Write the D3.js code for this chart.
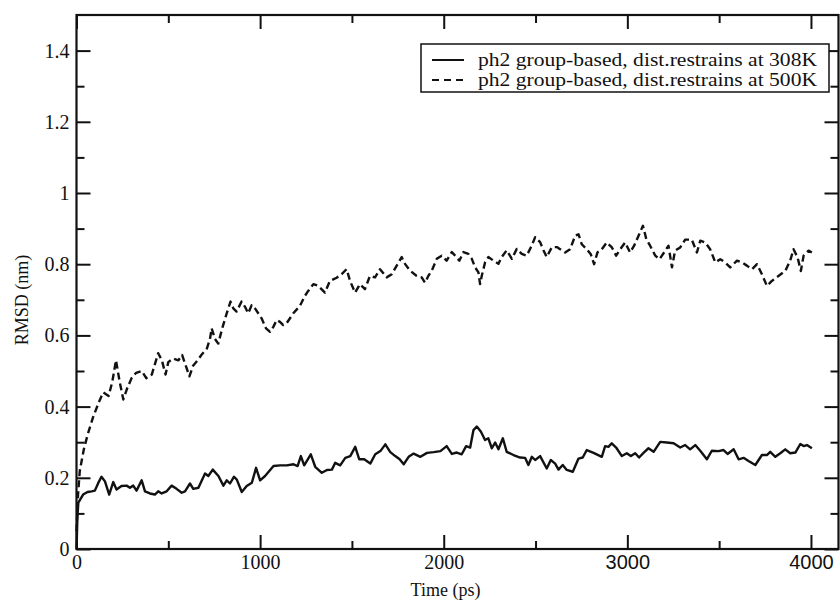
<!DOCTYPE html>
<html>
<head>
<meta charset="utf-8">
<script src="https://cdn.jsdelivr.net/npm/d3@7"></script>
<style>
  html, body { margin: 0; padding: 0; background: #fff; }
  svg { display: block; }
</style>
</head>
<body>
<svg id="chart" width="840" height="601"></svg>
<script>
// ---- data ----
const seriesNames = ["ph2 group-based, dist.restrains at 308K", "ph2 group-based, dist.restrains at 500K"];
const time308 = [0,5,10,36,60,82,100,118,136,155,178,200,218,245,273,291,309,327,355,373,400,427,445,464,491,518,545,573,591,618,636,664,700,718,742,773,800,818,836,858,873,900,927,955,978,1000,1027,1073,1109,1145,1182,1204,1222,1240,1276,1300,1336,1364,1391,1409,1436,1464,1491,1518,1540,1567,1600,1627,1655,1682,1709,1736,1760,1782,1809,1836,1873,1909,1945,1982,2016,2044,2071,2098,2122,2144,2162,2180,2202,2225,2243,2262,2280,2298,2322,2343,2380,2416,2443,2461,2480,2498,2525,2561,2583,2607,2625,2648,2670,2703,2734,2757,2779,2816,2861,2879,2897,2915,2939,2970,2997,3019,3043,3064,3088,3115,3143,3179,3215,3252,3288,3315,3342,3370,3397,3433,3460,3497,3524,3546,3579,3606,3633,3660,3697,3733,3760,3778,3806,3833,3860,3887,3915,3942,3960,3978,4005];
const rmsd308 = [0,0.09,0.13,0.153,0.16,0.162,0.164,0.185,0.203,0.19,0.153,0.188,0.167,0.177,0.178,0.172,0.178,0.164,0.193,0.162,0.156,0.153,0.162,0.156,0.162,0.178,0.169,0.158,0.162,0.184,0.169,0.172,0.212,0.205,0.223,0.205,0.178,0.193,0.184,0.203,0.195,0.16,0.177,0.186,0.228,0.193,0.205,0.233,0.235,0.235,0.238,0.233,0.261,0.235,0.266,0.231,0.214,0.222,0.223,0.242,0.235,0.256,0.261,0.287,0.252,0.252,0.240,0.266,0.275,0.294,0.272,0.261,0.252,0.238,0.259,0.268,0.259,0.27,0.272,0.275,0.289,0.267,0.271,0.266,0.289,0.285,0.334,0.344,0.330,0.306,0.311,0.283,0.299,0.28,0.311,0.273,0.264,0.257,0.256,0.236,0.259,0.25,0.261,0.226,0.25,0.24,0.223,0.236,0.222,0.217,0.254,0.257,0.278,0.27,0.259,0.289,0.287,0.297,0.285,0.261,0.269,0.261,0.269,0.257,0.27,0.283,0.273,0.301,0.299,0.297,0.285,0.292,0.28,0.292,0.276,0.252,0.276,0.275,0.278,0.267,0.28,0.252,0.256,0.247,0.236,0.264,0.264,0.273,0.259,0.269,0.28,0.269,0.271,0.295,0.289,0.292,0.283];
const time500 = [0,8,18,40,60,90,120,145,175,195,215,235,255,275,300,325,355,380,410,445,465,485,500,525,555,575,595,615,635,660,680,710,727,736,754,772,796,818,839,854,872,899,917,935,954,972,1008,1032,1054,1072,1090,1108,1126,1144,1181,1217,1244,1262,1290,1317,1353,1380,1417,1444,1471,1490,1517,1544,1571,1598,1626,1653,1689,1717,1744,1771,1789,1816,1853,1880,1898,1916,1935,1962,1989,2016,2044,2062,2085,2107,2134,2153,2171,2189,2198,2207,2225,2243,2271,2298,2316,2343,2371,2398,2425,2452,2480,2498,2525,2543,2561,2589,2616,2634,2661,2688,2716,2734,2752,2779,2801,2819,2837,2861,2888,2916,2939,2961,2988,3015,3037,3061,3085,3103,3124,3152,3175,3200,3224,3243,3260,3288,3315,3351,3379,3397,3424,3451,3479,3506,3533,3560,3597,3624,3651,3679,3706,3733,3760,3787,3823,3860,3887,3905,3927,3945,3960,3987,4005];
const rmsd500 = [0.05,0.15,0.22,0.28,0.32,0.37,0.41,0.44,0.43,0.47,0.53,0.47,0.42,0.45,0.48,0.495,0.50,0.48,0.49,0.55,0.53,0.49,0.525,0.535,0.53,0.545,0.515,0.485,0.515,0.53,0.545,0.563,0.59,0.62,0.59,0.577,0.624,0.662,0.695,0.676,0.667,0.695,0.681,0.662,0.685,0.676,0.648,0.62,0.61,0.624,0.643,0.638,0.629,0.634,0.662,0.683,0.711,0.725,0.744,0.739,0.72,0.753,0.762,0.772,0.786,0.753,0.72,0.744,0.73,0.767,0.763,0.786,0.763,0.772,0.796,0.82,0.801,0.782,0.767,0.763,0.748,0.767,0.782,0.815,0.824,0.81,0.834,0.824,0.81,0.834,0.829,0.815,0.791,0.777,0.744,0.767,0.805,0.82,0.81,0.801,0.82,0.839,0.815,0.843,0.829,0.824,0.853,0.876,0.862,0.839,0.82,0.848,0.848,0.842,0.833,0.842,0.88,0.884,0.856,0.842,0.828,0.8,0.833,0.842,0.861,0.847,0.824,0.842,0.861,0.833,0.852,0.88,0.908,0.871,0.852,0.824,0.814,0.833,0.852,0.791,0.838,0.847,0.869,0.869,0.833,0.866,0.861,0.842,0.805,0.814,0.805,0.791,0.81,0.805,0.796,0.786,0.8,0.772,0.739,0.753,0.767,0.781,0.81,0.842,0.819,0.781,0.824,0.838,0.833];
const xTickValues = [0,1000,2000,3000,4000];
const xTickLabels = ["0","1000","2000","3000","4000"];
const xMinorTicks = [500,1500,2500,3500];
const yTickValues = [0,0.2,0.4,0.6,0.8,1.0,1.2,1.4];
const yTickLabels = ["0","0.2","0.4","0.6","0.8","1","1.2","1.4"];
const yMinorTicks = [0.1,0.3,0.5,0.7,0.9,1.1,1.3];
const xTitle = "Time (ps)";
const yTitle = "RMSD (nm)";

// ---- layout ----
const svg = d3.select("#chart");
const L = 76.5, R = 838.5, T = 15, B = 549;
const x = d3.scaleLinear().domain([0, 4150]).range([L, R]);
const y = d3.scaleLinear().domain([0, 1.5]).range([B, T]);
const serif = "'Liberation Serif', 'Times New Roman', serif";
const sans = "'Liberation Sans', Arial, sans-serif";
const MAJ = 14, MIN = 8;

function styleAxis(g) {
  g.select(".domain").remove();
  g.selectAll(".tick line").attr("stroke", "#111").attr("stroke-width", 2);
}

// bottom axis (labels)
const gx = svg.append("g").attr("transform", `translate(0,${B})`)
  .call(d3.axisBottom(x).tickValues(xTickValues).tickSize(-MAJ).tickPadding(6)
    .tickFormat((d, i) => xTickLabels[i]));
styleAxis(gx);
gx.selectAll(".tick text").attr("fill", "#111")
  .style("font-family", (d, i) => i >= 3 ? sans : serif)
  .style("font-size", "20px");
svg.append("g").attr("transform", `translate(0,${B})`)
  .call(d3.axisBottom(x).tickValues(xMinorTicks).tickSize(-MIN).tickFormat(""))
  .call(styleAxis);
// top axis
svg.append("g").attr("transform", `translate(0,${T})`)
  .call(d3.axisTop(x).tickValues(xTickValues).tickSize(-MAJ).tickFormat("")).call(styleAxis);
svg.append("g").attr("transform", `translate(0,${T})`)
  .call(d3.axisTop(x).tickValues(xMinorTicks).tickSize(-MIN).tickFormat("")).call(styleAxis);

// left axis
const gy = svg.append("g").attr("transform", `translate(${L},0)`)
  .call(d3.axisLeft(y).tickValues(yTickValues).tickSize(-MAJ).tickPadding(7)
    .tickFormat((d, i) => yTickLabels[i]));
styleAxis(gy);
gy.selectAll(".tick text").attr("fill", "#111")
  .style("font-family", serif).style("font-size", "20px");
svg.append("g").attr("transform", `translate(${L},0)`)
  .call(d3.axisLeft(y).tickValues(yMinorTicks).tickSize(-MIN).tickFormat("")).call(styleAxis);
// right axis
svg.append("g").attr("transform", `translate(${R},0)`)
  .call(d3.axisRight(y).tickValues(yTickValues).tickSize(-MAJ).tickFormat("")).call(styleAxis);
svg.append("g").attr("transform", `translate(${R},0)`)
  .call(d3.axisRight(y).tickValues(yMinorTicks).tickSize(-MIN).tickFormat("")).call(styleAxis);

// frame
svg.append("rect").attr("x", L).attr("y", T).attr("width", R - L).attr("height", B - T)
  .attr("fill", "none").attr("stroke", "#111").attr("stroke-width", 2.2);

// titles
svg.append("text").attr("x", (L + R) / 2 - 12).attr("y", 596).attr("text-anchor", "middle")
  .style("font-family", serif).style("font-size", "18px").attr("fill", "#111").text(xTitle);
svg.append("text").attr("transform", `translate(28,300) rotate(-90)`).attr("text-anchor", "middle")
  .style("font-family", serif).style("font-size", "18px").attr("fill", "#111").text(yTitle);

// lines
const line = d3.line().x(d => x(d[0])).y(d => y(d[1]));
const d308 = time308.map((t, i) => [t, rmsd308[i]]);
const d500 = time500.map((t, i) => [t, rmsd500[i]]);
svg.append("path").datum(d500).attr("d", line).attr("fill", "none")
  .attr("stroke", "#111").attr("stroke-width", 2.4).attr("stroke-dasharray", "7,4")
  .attr("stroke-linejoin", "round");
svg.append("path").datum(d308).attr("d", line).attr("fill", "none")
  .attr("stroke", "#111").attr("stroke-width", 2.4).attr("stroke-linejoin", "round");

// legend
const lg = svg.append("g");
lg.append("rect").attr("x", 421).attr("y", 44).attr("width", 408).attr("height", 48)
  .attr("fill", "#fff").attr("stroke", "#111").attr("stroke-width", 1.5);
const dashes = [null, "7,5"];
seriesNames.forEach((name, i) => {
  const cy = 60 + i * 20;
  lg.append("line").attr("x1", 432).attr("x2", 464).attr("y1", cy).attr("y2", cy)
    .attr("stroke", "#111").attr("stroke-width", 2)
    .attr("stroke-dasharray", dashes[i]);
  lg.append("text").attr("x", 478).attr("y", cy + 6)
    .style("font-family", serif).style("font-size", "19px").attr("fill", "#111")
    .attr("textLength", 339).attr("lengthAdjust", "spacingAndGlyphs").text(name);
});
</script>
</body>
</html>
